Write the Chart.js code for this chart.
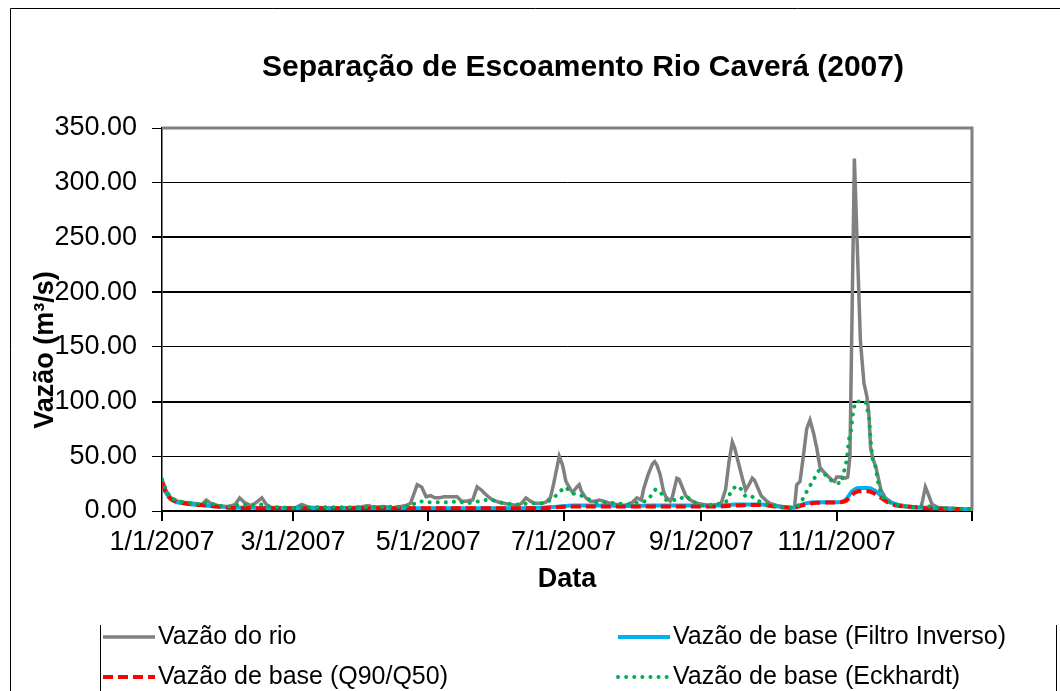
<!DOCTYPE html>
<html>
<head>
<meta charset="utf-8">
<script src="https://cdn.jsdelivr.net/npm/chart.js@4.4.1/dist/chart.umd.min.js"></script>
<style>
  html, body { margin: 0; padding: 0; background: #fff; }
  #wrap { width: 1060px; height: 691px; }
</style>
</head>
<body>
<div id="wrap"><canvas id="c" width="1060" height="691"></canvas></div>
<script>
// ---- data (day of year 2007, 0 = 1 Jan) ----
const riverDays = [0,2,4,7,10,14,18,20,22,25,30,33,35,37,40,42,45,47,49,55,60,63,66,75,85,90,93,95,100,104,107,110,112,115,117,119,121,123,125,127,131,133,135,137,140,142,144,145,147,149,152,154,157,160,162,164,166,168,171,173,175,176.5,178,179,180.5,182,184,185,187,188,189,191,193,195,197,199,202,205,208,210,212,214,216,217,219,221,222,223,224.5,226,227,229,230,232,233,234,236,238,241,244,247,250,252,254,255.5,257,258,260,261.5,263,264.5,266,267,268.5,270,272,274,277,280,283,285,286,287.5,289,290.5,292,293.5,295,296.5,298,300,302,303,304,306,308,309,310,311,312,313.2,314.7,316.3,317.7,318.5,319.3,320.3,321.7,324,326,328.5,331,334,338,342,343,344,345,347,350,355,360,365];
const riverFlow = [29,18,12,9,8,7,6,10,7,5,4,6,12,8,5,7,12,6,3.5,3,3,6,3.5,3,3,4,5,3.5,4,3,4,5,7,24,22,13,14,12,12,13,13,13,9,9,10,22,19,17,13,10,8,7,6,5,7,12,9,7,7,8,12,25,40,50,42,27,20,17,22,24,18,12,9,9,10,9,7,6,5,6,8,12,10,20,33,43,45,42,33,18,13,9,13,30,29,24,14,10,7,6,5,6,7,20,45,63,58,42,30,19,24,30,28,21,14,10,7,5,4,3,3,24,27,50,75,83,72,58,40,36,32,28,27,31,31,30,31,50,187,322,248,156,117,104,90,58,48,40,19,12,8,6,4,3,3,12,22,17,6,3,2.5,2,1.5];

const inverseDays = [0,2,4,7,10,14,20,25,30,40,60,90,120,150,170,178,185,200,210,220,230,240,250,258,270,278,284,290,295,305,308,311,314,318,321,324,327,331,337,345,355,365];
const inverseFlow = [24,16,11,8,7,6,5,4,3.5,3,2.5,2.5,2.5,2.5,3,4,5,5,4.5,5,5,5,5,6,6,4,3,7,8,8,10,18,21,21,19,14,9,6,4,3,2,1.5];

const q90Days = [0,2,4,7,10,14,20,25,30,60,120,170,178,185,200,220,240,250,258,270,278,284,290,295,305,308,311,314,318,321,324,327,331,337,345,355,365];
const q90Flow = [26,16,11,8,7,6,5,4,3,2.5,2.5,2.5,3.5,4,4,4,4,4,5,5.5,3.5,3,6,7.5,8,9,15,18,18,16,12,8,5,4,2.5,2,1.5];

const eckDays = [0,2,4,7,10,14,18,20,22,25,30,35,40,45,49,60,63,66,90,110,113,116,120,125,130,133,137,141,145,149,154,160,166,172,176,179,181.5,183.5,185,188,192,195,200,210,215,218,220,222.5,225,227,230,232.5,236,239,243,250,254.5,256,258.5,261,263,266,269,272,278,285,287.5,290,292,296,299,302,306,308.6,309.5,310.5,311.5,312.5,317,318.6,319.3,320.2,321.6,323,325,328,332,336,340,344,346,350,355,360,365];
const eckFlow = [29,18,12,9,8,7,6,8,7,5,4,6,5,6,3.5,3,4,3.5,3.5,4,6,9,8,8,8,9,7,8,10,10,7,6,7,7,11,17,22,19,16,15,11,8,8,6,8,9,13,20,16,10,10,10,14,9,5,6,9,16,23,20,13,13,9,6,4,3,6,16,23,37,33,27,25,47,65,74,92,100,100,86,65,47,40,22,12,8,5,4,3,5,4,2.5,2.5,2,1.5];

const tickDays = [0,59,120,181,243,304,365];
const tickLabels = ['1/1/2007','3/1/2007','5/1/2007','7/1/2007','9/1/2007','11/1/2007',''];

const chartTitle = 'Separação de Escoamento Rio Caverá (2007)';
const yTitle = 'Vazão (m³/s)';
const xTitle = 'Data';
const seriesNames = ['Vazão do rio','Vazão de base (Filtro Inverso)','Vazão de base (Q90/Q50)','Vazão de base (Eckhardt)'];

const pts = (d, v) => d.map((x, i) => ({x, y: v[i]}));
const FONT = '"Liberation Sans", Arial, sans-serif';

const decor = {
  id: 'decor',
  beforeDraw(chart) {
    const ctx = chart.ctx;
    ctx.save();
    ctx.fillStyle = '#fff';
    ctx.fillRect(0, 0, chart.width, chart.height);
    ctx.restore();
  },
  afterDatasetsDraw(chart) {
    const {ctx, chartArea: a} = chart;
    ctx.save();
    ctx.strokeStyle = '#808080';
    ctx.lineWidth = 3;
    ctx.beginPath();
    ctx.moveTo(a.left, a.top);
    ctx.lineTo(a.right, a.top);
    ctx.lineTo(a.right, a.bottom);
    ctx.stroke();
    ctx.restore();
  },
  afterDraw(chart) {
    const ctx = chart.ctx;
    ctx.save();
    ctx.strokeStyle = '#000';
    ctx.lineWidth = 1;
    ctx.beginPath();
    ctx.moveTo(10.5, 691);
    ctx.lineTo(10.5, 8.5);
    ctx.lineTo(1060, 8.5);
    ctx.stroke();
    ctx.beginPath();
    ctx.moveTo(100.5, 625); ctx.lineTo(100.5, 691);
    ctx.moveTo(1056.5, 625); ctx.lineTo(1056.5, 691);
    ctx.stroke();

    ctx.fillStyle = '#000';
    ctx.font = 'bold 30px ' + FONT;
    ctx.textAlign = 'center';
    ctx.textBaseline = 'middle';
    ctx.fillText(chartTitle, 583, 68);

    ctx.save();
    ctx.translate(46, 350);
    ctx.rotate(-Math.PI / 2);
    ctx.font = 'bold 27px ' + FONT;
    ctx.fillText(yTitle, 0, 0);
    ctx.restore();

    const pos = [[103, 637], [618, 637], [103, 677], [618, 677]];
    ctx.font = '25px ' + FONT;
    ctx.textAlign = 'left';
    ctx.textBaseline = 'middle';
    [0, 1, 2, 3].forEach((di, k) => {
      const ds = chart.data.datasets[di];
      const [x, y] = pos[k];
      ctx.save();
      ctx.strokeStyle = ds.borderColor;
      ctx.lineWidth = ds.borderWidth;
      ctx.lineCap = ds.borderCapStyle || 'butt';
      ctx.setLineDash(ds.borderDash || []);
      ctx.beginPath();
      ctx.moveTo(x, y);
      ctx.lineTo(x + 52, y);
      ctx.stroke();
      ctx.restore();
      ctx.fillStyle = '#000';
      ctx.fillText(ds.label, x + 55, y);
    });
    ctx.restore();
  }
};

new Chart(document.getElementById('c'), {
  type: 'line',
  data: {
    datasets: [
      { label: seriesNames[0], data: pts(riverDays, riverFlow), borderColor: '#808080', borderWidth: 3.5, pointRadius: 0, tension: 0, order: 3 },
      { label: seriesNames[1], data: pts(inverseDays, inverseFlow), borderColor: '#00B0F0', borderWidth: 4, pointRadius: 0, cubicInterpolationMode: 'monotone', order: 2 },
      { label: seriesNames[2], data: pts(q90Days, q90Flow), borderColor: '#FF0000', borderWidth: 4, borderDash: [10, 5], pointRadius: 0, cubicInterpolationMode: 'monotone', order: 1 },
      { label: seriesNames[3], data: pts(eckDays, eckFlow), borderColor: '#00B050', borderWidth: 4, borderDash: [0.1, 8], borderCapStyle: 'round', pointRadius: 0, tension: 0, order: 0 }
    ]
  },
  options: {
    responsive: false,
    devicePixelRatio: 1,
    animation: false,
    layout: { padding: { left: 0, top: 128, right: 88, bottom: 0 } },
    plugins: { legend: { display: false }, title: { display: false }, tooltip: { enabled: false } },
    scales: {
      x: {
        type: 'linear',
        min: 0, max: 365,
        afterBuildTicks: (s) => { s.ticks = tickDays.map(v => ({ value: v })); },
        afterFit: (s) => { s.height = 180; },
        ticks: {
          autoSkip: false, maxRotation: 0, padding: 5, color: '#000',
          font: { family: FONT, size: 27 },
          callback: (v) => { const i = tickDays.indexOf(v); return i >= 0 ? tickLabels[i] : ''; }
        },
        grid: { drawOnChartArea: false, drawTicks: true, tickLength: 10, color: '#000', lineWidth: 2 },
        border: { display: true, color: '#000', width: 2 },
        title: { display: true, text: xTitle, color: '#000', font: { family: FONT, size: 27, weight: 'bold' }, padding: { top: 0, bottom: 95 } }
      },
      y: {
        min: 0, max: 350,
        afterFit: (s) => { s.width = 162; },
        ticks: {
          stepSize: 50, padding: 15, color: '#000',
          font: { family: FONT, size: 27 },
          callback: (v) => Number(v).toFixed(2)
        },
        grid: {
          color: '#000', tickLength: 10,
          lineWidth: (c) => (c.tick && (c.tick.value === 100 || c.tick.value === 200 || c.tick.value === 250)) ? 2 : 1
        },
        border: { display: true, color: '#000', width: 1.5 }
      }
    }
  },
  plugins: [decor]
});
</script>
</body>
</html>
